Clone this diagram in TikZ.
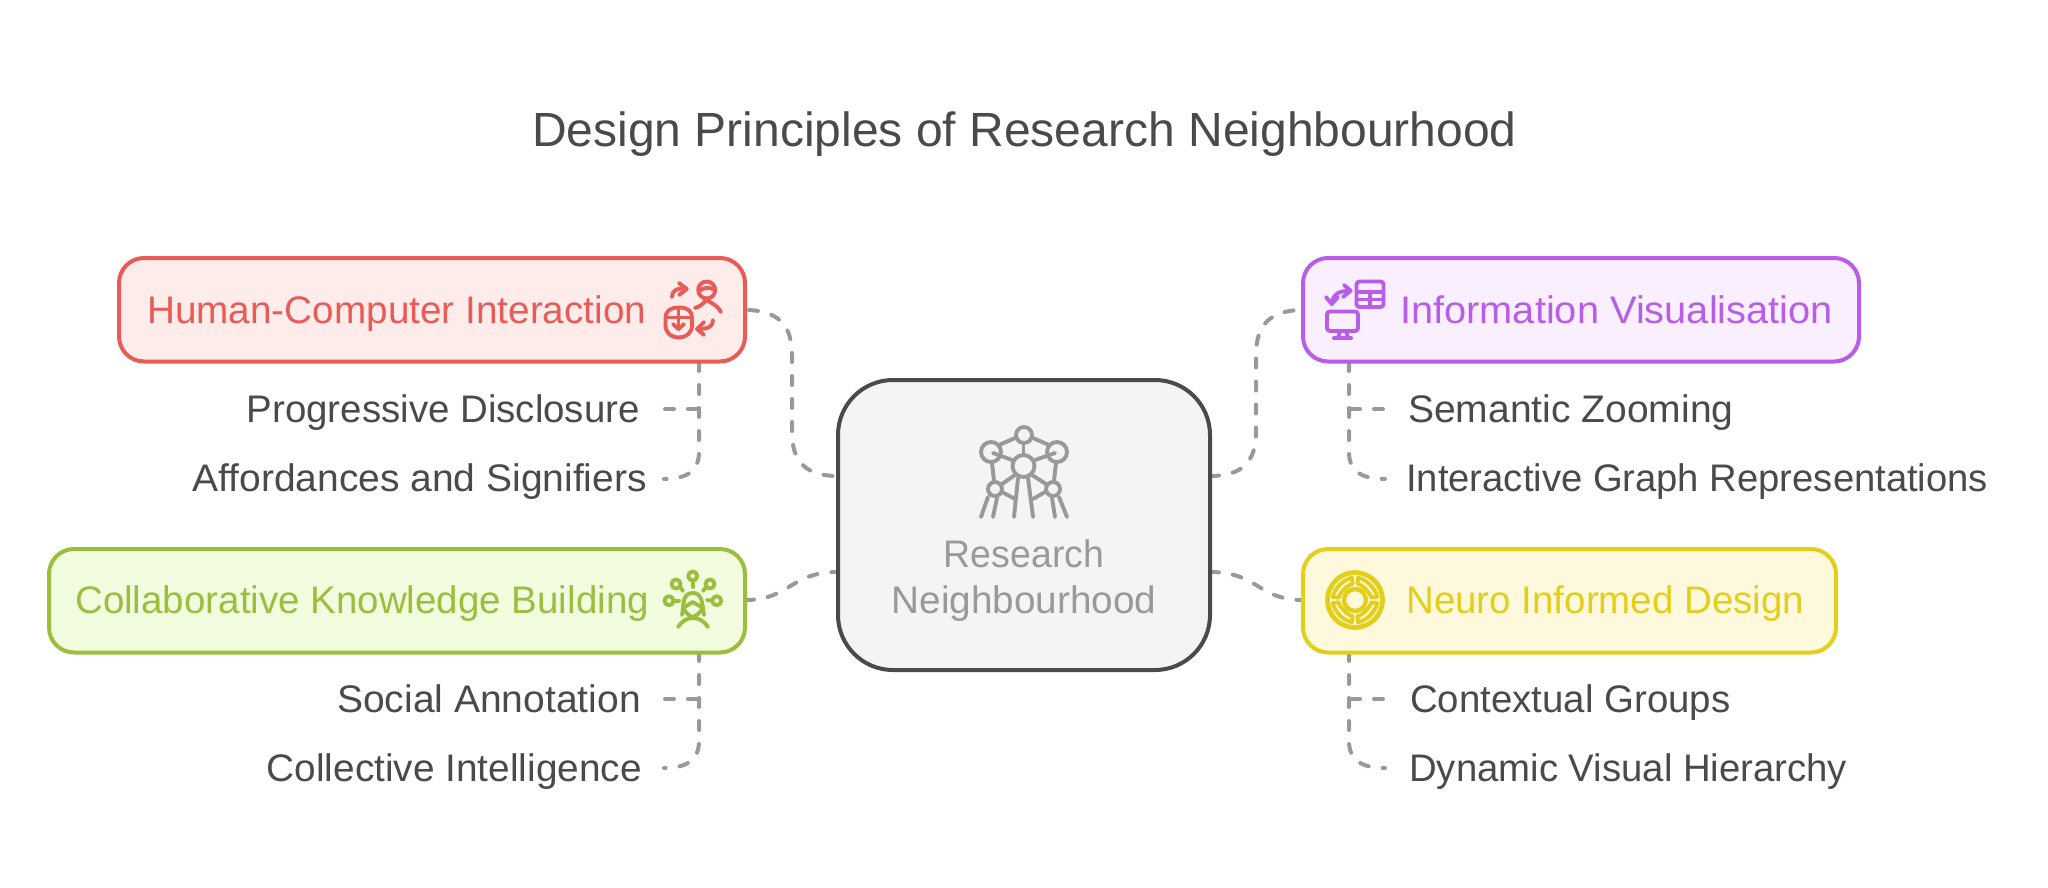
\documentclass[tikz,border=0pt]{standalone}
\usepackage{graphicx}
\usepackage{fontspec}
\setmainfont{Liberation Sans}
\usetikzlibrary{calc}
\definecolor{txt}{HTML}{4A4A4A}
\definecolor{cgray}{HTML}{999999}
\definecolor{redS}{HTML}{E85B56}\definecolor{redF}{HTML}{FEECEB}
\definecolor{purS}{HTML}{B85DE8}\definecolor{purF}{HTML}{F9EFFE}
\definecolor{grnS}{HTML}{9BBF3C}\definecolor{grnF}{HTML}{F2FDDF}
\definecolor{yelS}{HTML}{E3CE1A}\definecolor{yelF}{HTML}{FEF9DC}
\newcommand{\xfit}[2]{\scalebox{#1}[1]{#2}}
\tikzset{
 x=1pt,y=-1pt,
 boxn/.style={draw,line width=4pt,rounded corners=25pt,inner sep=0pt,anchor=north west},
 conn/.style={draw=cgray,line width=4pt,line cap=round,dash pattern=on 9pt off 14pt},
 ico/.style={line width=3.9pt,line cap=round,line join=round},
 lab/.style={font=\fontsize{38.4pt}{44pt}\selectfont,text=txt,inner sep=0pt},
 head/.style={font=\fontsize{38.4pt}{44pt}\selectfont,inner sep=0pt},
}
\begin{document}
\begin{tikzpicture}
\useasboundingbox (0,0) rectangle (2048,887);
\fill[white] (0,0) rectangle (2048,887);
% title
\node[inner sep=0pt,text=txt,font=\fontsize{48pt}{54pt}\selectfont,anchor=base] (title) at (1024.5,146) {Design Principles of Research Neighbourhood};
% anchors for connector ends
\coordinate (cL1) at (838,476);\coordinate (cR1) at (1210,476);
\coordinate (cL2) at (838,572);\coordinate (cR2) at (1210,572);
\coordinate (sA) at (699,362);\coordinate (sB) at (1349,362);
\coordinate (sC) at (699,652);\coordinate (sD) at (1349,652);
% boxes' connectors
\draw[conn,dash phase=19pt] (745,310) .. controls (778,310) and (792,325) .. (792,355) -- (792,432) .. controls (792,462) and (806,476) .. (cL1);
\draw[conn] (cR1) .. controls (1242,476) and (1256,462) .. (1256,432) -- (1256,355) .. controls (1256,325) and (1270,310) .. (1303,310);
\draw[conn] (745,600) .. controls (790,600) and (790,572) .. (cL2);
\draw[conn] (cR2) .. controls (1258,572) and (1258,600) .. (1303,600);
% stems
\draw[conn] (sA) -- (699,452) .. controls (699,470) and (688,479) .. (664,479);
\draw[conn] (665,409) -- (699,409);
\draw[conn] (sB) -- (1349,452) .. controls (1349,470) and (1360,479) .. (1385,479);
\draw[conn] (1383,409) -- (1349,409);
\draw[conn] (sC) -- (699,741) .. controls (699,759) and (688,768) .. (664,768);
\draw[conn] (665,699) -- (699,699);
\draw[conn] (sD) -- (1349,741) .. controls (1349,759) and (1360,768) .. (1385,768);
\draw[conn] (1383,699) -- (1349,699);
% boxes
\node[boxn,draw=redS,fill=redF,minimum width=626pt,minimum height=103.5pt] (hci) at (117,256) {};
\node[boxn,draw=purS,fill=purF,minimum width=556pt,minimum height=103.5pt] (info) at (1301,256) {};
\node[boxn,draw=grnS,fill=grnF,minimum width=696pt,minimum height=103.5pt] (collab) at (47,547) {};
\node[boxn,draw=yelS,fill=yelF,minimum width=533pt,minimum height=103.5pt] (neuro) at (1301,547) {};
\node[boxn,draw=txt,fill=black!4.5,rounded corners=55pt,minimum width=372pt,minimum height=290pt] (center) at (836,378) {};
% box labels
\node[head,text=redS,anchor=base west] (t1) at (147,323) {\xfit{1.008}{Human-Computer Interaction}};
\node[head,text=purS,anchor=base west] (t2) at (1400,323) {\xfit{1.036}{Information Visualisation}};
\node[head,text=grnS,anchor=base west] (t3) at (75,613) {\xfit{1.003}{Collaborative Knowledge Building}};
\node[head,text=yelS,anchor=base west] (t4) at (1406,613) {\xfit{1.003}{Neuro Informed Design}};
\node[head,text=cgray,anchor=base] (t5) at (1024,567) {\xfit{0.975}{Research}};
\node[head,text=cgray,anchor=base] (t6) at (1024,613) {\xfit{1.008}{Neighbourhood}};
% leaves
\node[lab,anchor=base east] (l1) at (640,422.5) {\xfit{1.001}{Progressive Disclosure}};
\node[lab,anchor=base east] (l2) at (647,491.5) {\xfit{1.015}{Affordances and Signifiers}};
\node[lab,anchor=base east] (l3) at (641,712) {\xfit{1.016}{Social Annotation}};
\node[lab,anchor=base east] (l4) at (642,781) {\xfit{1.01}{Collective Intelligence}};
\node[lab,anchor=base west] (r1) at (1408,422.5) {\xfit{1.016}{Semantic Zooming}};
\node[lab,anchor=base west] (r2) at (1406,491.5) {\xfit{0.995}{Interactive Graph Representations}};
\node[lab,anchor=base west] (r3) at (1410,712) {Contextual Groups};
\node[lab,anchor=base west] (r4) at (1409,781) {\xfit{0.998}{Dynamic Visual Hierarchy}};
% centre icon
\begin{scope}[ico,draw=cgray]
\draw (1024,435) circle (8);
\draw (1023.5,466) circle (11);
\draw (991,452) circle (10);
\draw (1057,452) circle (10);
\draw (995,489) circle (7);
\draw (1053,489) circle (7);
\draw (1015,438)--(999,445);\draw (1033,438)--(1049,445);
\draw (1023.5,444)--(1023.5,455);
\draw (993,453)--(1012,460);\draw (1055,453)--(1035,460);
\draw (992,463)--(994,481);\draw (1056,463)--(1054,481);
\draw (1015,475)--(1002,484);\draw (1032,475)--(1046,484);
\draw (1018,478)--(1014,517);\draw (1028,478)--(1033,517);
\draw (988,497)--(981,517);\draw (997,498)--(993,517);
\draw (1052,498)--(1055,517);\draw (1059,497)--(1067,517);
\draw (1002,492)--(1015,499);\draw (1045,492)--(1033,499);
\end{scope}
% HCI icon
\begin{scope}[ico,draw=redS]
\draw (706.7,290) circle (8.5);
\draw (699,291) .. controls (704,287) and (710,287) .. (715,290);
\draw (695,308) .. controls (701,306) and (704,303) .. (706,300) .. controls (712,303) and (718,306) .. (721,312);
\draw (665.5,318) .. controls (665.5,311) and (670,307.5) .. (679,307.5) .. controls (688,307.5) and (692,311) .. (692,318) -- (692,325) .. controls (692,333) and (686,337.5) .. (679,337.5) .. controls (671,337.5) and (665.5,333) .. (665.5,325) -- cycle;
\draw (666,317.5)--(692,317.5);
\draw (678.5,308)--(678.5,329);
\draw (673,324)--(678.5,329)--(684,324);
\draw (672,297) .. controls (672,291) and (676,288) .. (686,288.5);
\draw (679,283)--(686.7,289)--(679,295);
\draw (713,320) .. controls (713,326) and (709,329) .. (698,329);
\draw (704,322)--(697,329)--(704,335);
\end{scope}
% Info icon
\begin{scope}[ico,draw=purS]
\draw[rounded corners=3pt] (1356.5,281.5) rectangle (1383.5,307);
\draw (1357,292)--(1383,292);\draw (1357,299.5)--(1383,299.5);\draw (1370,292)--(1370,307);
\draw[rounded corners=3pt] (1327,311.5) rectangle (1358,331);
\draw (1340,331)--(1338,338);\draw (1346,331)--(1348,338);\draw (1334,338)--(1351,338);
\draw (1331.7,304) .. controls (1333,293) and (1340,291) .. (1350,290.7);
\draw (1344,285)--(1350.7,290.7)--(1343,297);
\draw (1326,297)--(1331.7,304)--(1338,297);
\end{scope}
% Collab icon
\begin{scope}[ico,draw=grnS]
\draw (692.7,576) circle (4.5);\draw (676,584) circle (4.5);\draw (710,584) circle (4.5);
\draw (669,600.7) circle (4.5);\draw (716.7,600.7) circle (4.5);
\draw (692.7,581)--(692.7,587);\draw (680,587)--(683,591);\draw (706,587)--(703,591);
\draw (674,600.7)--(679,600.7);\draw (712,600.7)--(707,600);
\draw (682,615) .. controls (684,605) and (682,593) .. (692.7,593) .. controls (703,593) and (702,605) .. (704,615);
\draw (683,608) -- (692.7,602) -- (703,608);
\draw (683,608) .. controls (686,613) and (689,616) .. (692.7,617) .. controls (696,616) and (700,613) .. (703,608);
\draw (678,627) .. controls (682,621) and (687,618) .. (692.7,618) .. controls (699,618) and (704,621) .. (708,627);
\end{scope}
% Neuro icon
\begin{scope}[ico,draw=yelS,shift={(1355,600)}]
\draw[line width=4.8pt] (0,0) circle (27.5);
\draw[line width=4.4pt] (0,0) circle (11);
\foreach \a in {0,90,180,270}{
\draw[line width=3.8pt]
 (\a+8:16.5) -- (\a+8:22.5) .. controls (\a+30:23.5) and (\a+60:23.5) .. (\a+82:22.5) -- (\a+82:16.5) .. controls (\a+65:17) and (\a+25:17) .. (\a+8:16.5) -- cycle;
}
\end{scope}
\end{tikzpicture}
\end{document}
